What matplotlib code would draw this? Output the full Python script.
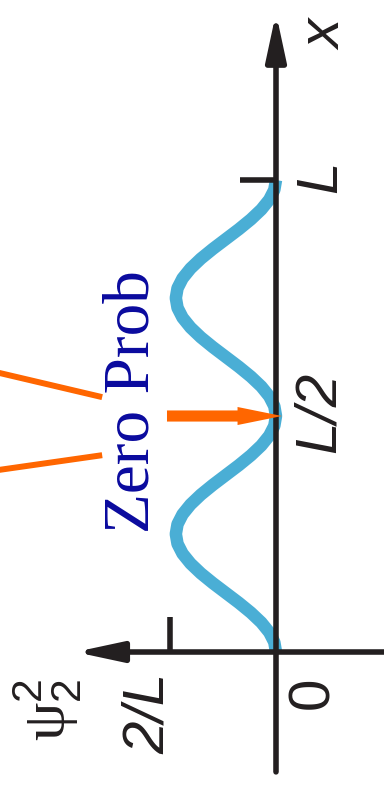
import matplotlib

matplotlib.use("Agg")
import matplotlib.pyplot as plt
import numpy as np

# psi_2^2 sampled along the box (position in units of L), read as two humps
psi_sq = [
    0.0, 0.032, 0.127, 0.277, 0.473, 0.700, 0.945, 1.190, 1.418, 1.613, 1.763, 1.858,
    1.89, 1.858, 1.763, 1.613, 1.418, 1.190, 0.945, 0.700, 0.473, 0.277, 0.127, 0.032,
    0.0, 0.032, 0.127, 0.277, 0.473, 0.700, 0.945, 1.190, 1.418, 1.613, 1.763, 1.858,
    1.89, 1.858, 1.763, 1.613, 1.418, 1.190, 0.945, 0.700, 0.473, 0.277, 0.127, 0.032,
    0.0,
]
x_pos = np.linspace(0.0, 1.0, len(psi_sq))

node_x = 0.5          # where the probability vanishes (L/2)
peak_tick = 2.0       # 2/L
length_tick = 1.0     # L

axis_color = "#231f20"
curve_color = "#4aaed5"
orange = "#ff6600"
text_blue = "#0a0a9e"

plt.rcParams["mathtext.fontset"] = "custom"
plt.rcParams["mathtext.rm"] = "Liberation Serif"
plt.rcParams["mathtext.sf"] = "Liberation Sans"

fig = plt.figure(figsize=(3.84, 7.86), dpi=100)
ax = fig.add_axes([0, 0, 1, 1])
# psi^2 grows to the left, x grows upward
ax.set_xlim(5.208, -2.038)
ax.set_ylim(-0.2839, 1.3814)
ax.axis("off")

ax.plot(psi_sq, x_pos, color=curve_color, lw=9, solid_capstyle="butt", zorder=2)

arrow_style = "-|>,head_length=2.8,head_width=0.6"
ax.annotate("", xy=(0, 1.354), xytext=(0, -0.254),
            arrowprops=dict(arrowstyle=arrow_style, mutation_scale=10, lw=4,
                            color=axis_color, shrinkA=0, shrinkB=0), zorder=3)
ax.annotate("", xy=(3.79, 0), xytext=(-2.3, 0),
            arrowprops=dict(arrowstyle=arrow_style, mutation_scale=10, lw=4,
                            color=axis_color, shrinkA=0, shrinkB=0), zorder=3)

# tick marks at x = L and psi^2 = 2/L
ax.plot([0, 0.68], [length_tick, length_tick], color=axis_color, lw=4, solid_capstyle="butt", zorder=3)
ax.plot([peak_tick, peak_tick], [0, 0.074], color=axis_color, lw=4, solid_capstyle="butt", zorder=3)

label_kw = dict(rotation=90, ha="center", va="center", fontsize=42,
                family="Liberation Sans", color=axis_color)
ax.text(-0.943, 1.307, "x", style="italic", **label_kw)
ax.text(-0.849, 1.006, "L", style="italic", **label_kw)
ax.text(-0.83, 0.508, "L/2", style="italic", **label_kw)
ax.text(-0.698, -0.087, "0", **label_kw)
ax.text(2.396, -0.129, "2/L", style="italic", **label_kw)
ax.text(4.32, -0.123, r"$\mathrm{\psi}_{\mathsf{2}}^{\mathsf{2}}$", rotation=90,
        ha="center", va="center", fontsize=44, color=axis_color)

# callout pointing at the node
ax.text(2.70, 0.530, "Zero Prob", rotation=90, ha="center", va="center",
        fontsize=47, family="Liberation Serif", color=text_blue)
ax.annotate("", xy=(-0.113, node_x), xytext=(2.057, node_x),
            arrowprops=dict(width=8, headwidth=13, headlength=32, shrink=0,
                            color=orange, lw=0), zorder=4)
ax.plot([5.4, 3.28], [0.596, 0.540], color=orange, lw=4.3, solid_capstyle="butt")
ax.plot([5.4, 3.28], [0.383, 0.417], color=orange, lw=4.3, solid_capstyle="butt")

fig.savefig("out.png", dpi=100)
